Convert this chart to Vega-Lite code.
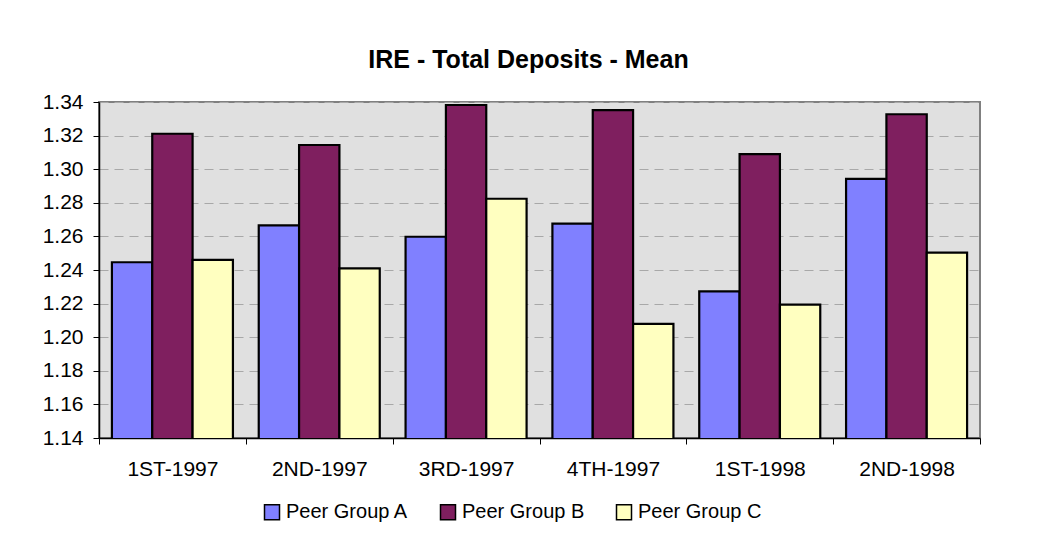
{
  "$schema": "https://vega.github.io/schema/vega-lite/v6.json",
  "autosize": {"type": "none"},
  "width": 881,
  "height": 336,
  "padding": {"left": 99, "top": 102, "right": 57, "bottom": 106},
  "background": "white",
  "title": {
    "text": "IRE - Total Deposits - Mean",
    "font": "Liberation Sans",
    "fontSize": 25,
    "fontWeight": "bold",
    "color": "black",
    "anchor": "middle",
    "baseline": "alphabetic",
    "offset": -2,
    "dx": -11
  },
  "config": {
    "view": {"fill": "#E0E0E0", "stroke": "#808080", "strokeWidth": 2},
    "font": "Liberation Sans"
  },
  "data": {
    "values": [
      {"period": "1ST-1997", "group": "Peer Group A", "value": 1.2446},
      {"period": "1ST-1997", "group": "Peer Group B", "value": 1.3211},
      {"period": "1ST-1997", "group": "Peer Group C", "value": 1.246},
      {"period": "2ND-1997", "group": "Peer Group A", "value": 1.2666},
      {"period": "2ND-1997", "group": "Peer Group B", "value": 1.3144},
      {"period": "2ND-1997", "group": "Peer Group C", "value": 1.241},
      {"period": "3RD-1997", "group": "Peer Group A", "value": 1.2598},
      {"period": "3RD-1997", "group": "Peer Group B", "value": 1.3382},
      {"period": "3RD-1997", "group": "Peer Group C", "value": 1.2824},
      {"period": "4TH-1997", "group": "Peer Group A", "value": 1.2676},
      {"period": "4TH-1997", "group": "Peer Group B", "value": 1.3352},
      {"period": "4TH-1997", "group": "Peer Group C", "value": 1.2079},
      {"period": "1ST-1998", "group": "Peer Group A", "value": 1.2273},
      {"period": "1ST-1998", "group": "Peer Group B", "value": 1.309},
      {"period": "1ST-1998", "group": "Peer Group C", "value": 1.2194},
      {"period": "2ND-1998", "group": "Peer Group A", "value": 1.2942},
      {"period": "2ND-1998", "group": "Peer Group B", "value": 1.3327},
      {"period": "2ND-1998", "group": "Peer Group C", "value": 1.2503}
    ]
  },
  "mark": {"type": "bar", "stroke": "black", "strokeWidth": 2.2, "clip": true},
  "encoding": {
    "x": {
      "field": "period",
      "type": "nominal",
      "sort": null,
      "scale": {"paddingInner": 0, "paddingOuter": 0},
      "axis": {
        "title": null,
        "labelAngle": 0,
        "labelFont": "Liberation Sans",
        "labelFontSize": 21,
        "labelColor": "black",
        "labelPadding": 14,
        "tickBand": "extent",
        "tickColor": "black",
        "tickSize": 6,
        "domainColor": "black",
        "domainWidth": 1.5,
        "grid": false
      }
    },
    "xOffset": {
      "field": "group",
      "type": "nominal",
      "scale": {"paddingInner": 0, "paddingOuter": 0.32}
    },
    "y": {
      "field": "value",
      "type": "quantitative",
      "scale": {"domain": [1.14, 1.34], "zero": false, "nice": false},
      "axis": {
        "title": null,
        "values": [1.14, 1.16, 1.18, 1.2, 1.22, 1.24, 1.26, 1.28, 1.3, 1.32, 1.34],
        "format": ".2f",
        "labelFont": "Liberation Sans",
        "labelFontSize": 21,
        "labelColor": "black",
        "labelPadding": 10,
        "tickColor": "black",
        "tickSize": 6,
        "domainColor": "black",
        "domainWidth": 1.5,
        "grid": true,
        "gridColor": "#A8A8A8",
        "gridDash": [9, 6],
        "gridWidth": 1
      }
    },
    "color": {
      "field": "group",
      "type": "nominal",
      "scale": {"domain": ["Peer Group A", "Peer Group B", "Peer Group C"], "range": ["#8080FF", "#7F1F5F", "#FFFFC0"]},
      "legend": {
        "title": null,
        "orient": "none",
        "direction": "horizontal",
        "legendX": 163,
        "legendY": 400,
        "symbolType": "square",
        "symbolSize": 225,
        "symbolStrokeColor": "black",
        "symbolStrokeWidth": 1.5,
        "symbolOpacity": 1,
        "labelFont": "Liberation Sans",
        "labelFontSize": 20,
        "labelColor": "black",
        "labelOffset": 4,
        "columnPadding": 28
      }
    }
  }
}
